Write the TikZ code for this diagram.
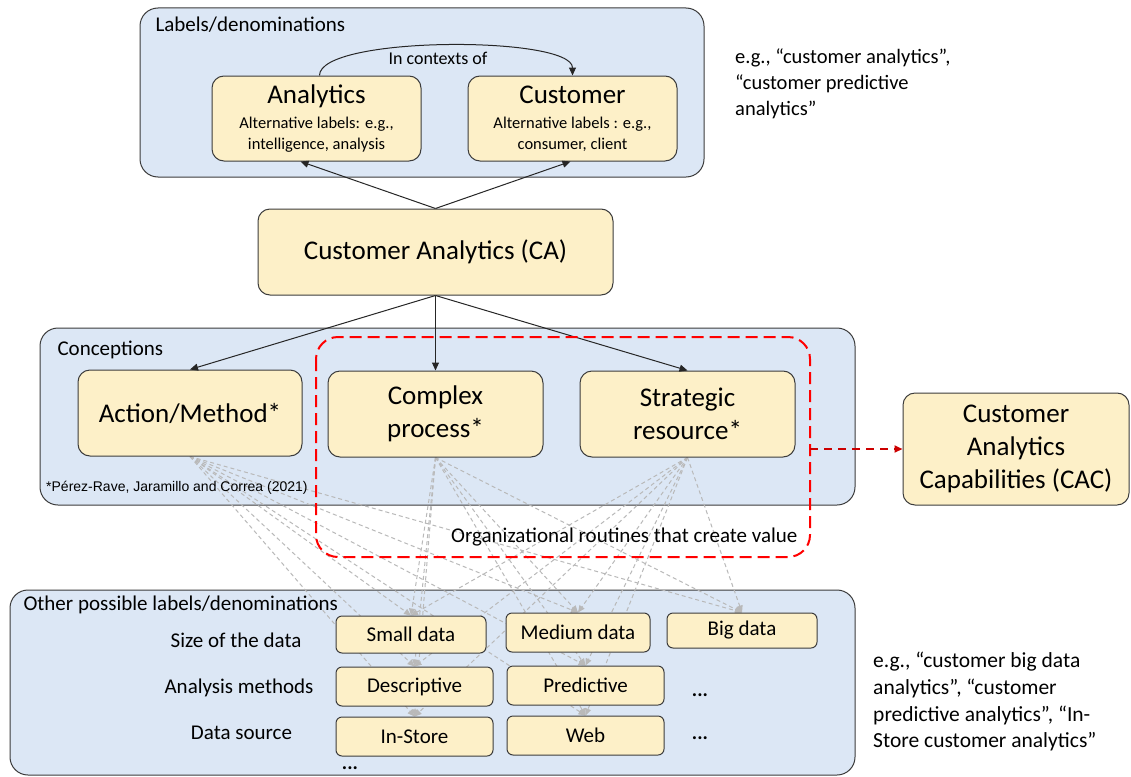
\documentclass[tikz,border=0pt]{standalone}
\usepackage{fontspec}
\setmainfont{Carlito}
\newfontfamily\arialfont{Liberation Sans}
\usetikzlibrary{arrows.meta}
\definecolor{panelblue}{RGB}{220,231,245}
\definecolor{boxyellow}{RGB}{253,240,200}
\definecolor{edgegray}{RGB}{60,60,60}
\pgfdeclarelayer{panels}
\pgfdeclarelayer{links}
\pgfsetlayers{panels,links,main}
\tikzset{
  panel/.style={draw=edgegray, fill=panelblue, rounded corners=18pt, line width=1pt},
  bigbox/.style={draw=edgegray, fill=boxyellow, rounded corners=12pt, line width=1pt, align=center, inner sep=0pt},
  databox/.style={draw=edgegray, fill=boxyellow, rounded corners=6pt, line width=1pt, inner sep=0pt, font=\fontsize{21}{25}\selectfont},
  rowlabel/.style={font=\fontsize{21}{25}\selectfont},
  blackarrow/.style={-{Triangle[length=8pt,width=7pt]}, line width=1pt, black!85},
  grayarrow/.style={-{Triangle[length=7pt,width=6pt]}, gray!55, line width=1pt, dash pattern=on 4pt off 3pt},
}
\begin{document}
\begin{tikzpicture}[x=1pt, y=-1pt]
  \clip (0,0) rectangle (1131,776);

  % top part
  \node[anchor=west, font=\fontsize{21}{25}\selectfont] (labtitle) at (152,25) {Labels/denominations};
  \node[bigbox, minimum width=209pt, minimum height=85pt, font=\fontsize{16.5}{20.5}\selectfont] (an) at (316.5,118.5)
    {{\fontsize{27}{32}\selectfont Analytics}\\[5pt]Alternative labels: e.g.,\\intelligence, analysis};
  \node[bigbox, minimum width=209pt, minimum height=85pt, font=\fontsize{16.5}{20.5}\selectfont] (cu) at (572.5,118.5)
    {{\fontsize{27}{32}\selectfont Customer}\\[5pt]Alternative labels : e.g.,\\consumer, client};
  \node[font=\fontsize{18}{22}\selectfont] (ctx) at (438,58) {In contexts of};
  \draw[blackarrow] ([xshift=3pt]an.north) .. controls +(0,-40) and +(0,-40) .. (cu.north);
  \node[anchor=north west, align=left, inner sep=0pt, font=\fontsize{20.5}{26}\selectfont] (ex1) at (735,49)
    {e.g., “customer analytics”,\\“customer predictive\\analytics”};

  \node[bigbox, minimum width=355pt, minimum height=86pt, font=\fontsize{27}{32}\selectfont] (ca) at (435.5,252) {Customer Analytics (CA)};
  \draw[blackarrow] (ca.north) -- ([xshift=-16pt]an.south);
  \draw[blackarrow] (ca.north) -- ([xshift=-2pt]cu.south);

  % conceptions
  \node[anchor=west, font=\fontsize{21}{25}\selectfont] (contitle) at (54,350) {Conceptions};
  \node[bigbox, minimum width=224pt, minimum height=86pt, font=\fontsize{27}{32}\selectfont] (act) at (190,413) {Action/Method*};
  \node[bigbox, minimum width=215pt, minimum height=86pt, font=\fontsize{27}{33}\selectfont] (cpx) at (435.5,414) {Complex\\process*};
  \node[bigbox, minimum width=215pt, minimum height=86pt, font=\fontsize{27}{33}\selectfont] (str) at (687.5,414) {Strategic\\resource*};
  \node[anchor=west, inner sep=0pt, font=\arialfont\fontsize{14}{17}\selectfont] (ref) at (46,488) {*Pérez-Rave, Jaramillo and Correa (2021)};
  \draw[blackarrow] (ca.south) -- (act.north);
  \draw[blackarrow] (ca.south) -- (cpx.north);
  \draw[blackarrow] (ca.south) -- (str.north);

  \draw[red, line width=2pt, dash pattern=on 12pt off 6pt, rounded corners=22pt] (316,337) rectangle (810,557);
  \node[anchor=east, font=\fontsize{21}{25}\selectfont] (routines) at (801,537) {Organizational routines that create value};
  \node[bigbox, minimum width=226pt, minimum height=112pt, font=\fontsize{27}{33}\selectfont] (cac) at (1016,449) {Customer\\Analytics\\Capabilities (CAC)};
  \coordinate (redout) at (810,449);
  \draw[-{Triangle[length=8pt,width=7pt]}, red!80!black, line width=2pt, dash pattern=on 8pt off 6pt] (redout) -- (cac.west);

  % other labels
  \node[anchor=west, font=\fontsize{21}{25}\selectfont] (othtitle) at (20,605) {Other possible labels/denominations};
  \node[rowlabel] (rsize) at (236,640) {Size of the data};
  \node[rowlabel] (rmeth) at (239,688) {Analysis methods};
  \node[rowlabel] (rsrc) at (241.5,733) {Data source};
  \node[databox, minimum width=150pt, minimum height=37pt] (small) at (411,634.5) {Small data};
  \node[databox, minimum width=144pt, minimum height=39pt] (medium) at (578,632.5) {Medium data};
  \node[databox, minimum width=150pt, minimum height=35pt] (big) at (742,630.5) {Big data};
  \node[databox, minimum width=157pt, minimum height=39pt] (desc) at (414.5,686.5) {Descriptive};
  \node[databox, minimum width=157pt, minimum height=39pt] (pred) at (585.5,685.5) {Predictive};
  \node[databox, minimum width=157pt, minimum height=39pt] (store) at (414.5,736.5) {In-Store};
  \node[databox, minimum width=157pt, minimum height=39pt] (web) at (585.5,735.5) {Web};
  \node[font=\fontsize{20}{24}\selectfont\bfseries] (dots1) at (700,695) {...};
  \node[font=\fontsize{20}{24}\selectfont\bfseries] (dots2) at (700,738) {...};
  \node[font=\fontsize{20}{24}\selectfont\bfseries] (dots3) at (350,768) {...};
  \node[anchor=north west, align=left, inner sep=0pt, font=\fontsize{21.5}{26.7}\selectfont] (ex2) at (873,652)
    {e.g., “customer big data\\analytics”, “customer\\predictive analytics”, “In-\\Store customer analytics”};

  \begin{pgfonlayer}{links}
    \foreach \s in {act,cpx,str}
      \foreach \t in {small,medium,big,desc,pred,store,web}
        \draw[grayarrow] (\s.south) -- (\t.north);
  \end{pgfonlayer}

  \begin{pgfonlayer}{panels}
    \fill[white] (0,0) rectangle (1131,776);
    \draw[panel] (140,8) rectangle (704,177);
    \draw[panel] (40,328) rectangle (855,505);
    \draw[panel] (10,590) rectangle (855,775);
  \end{pgfonlayer}
\end{tikzpicture}
\end{document}
